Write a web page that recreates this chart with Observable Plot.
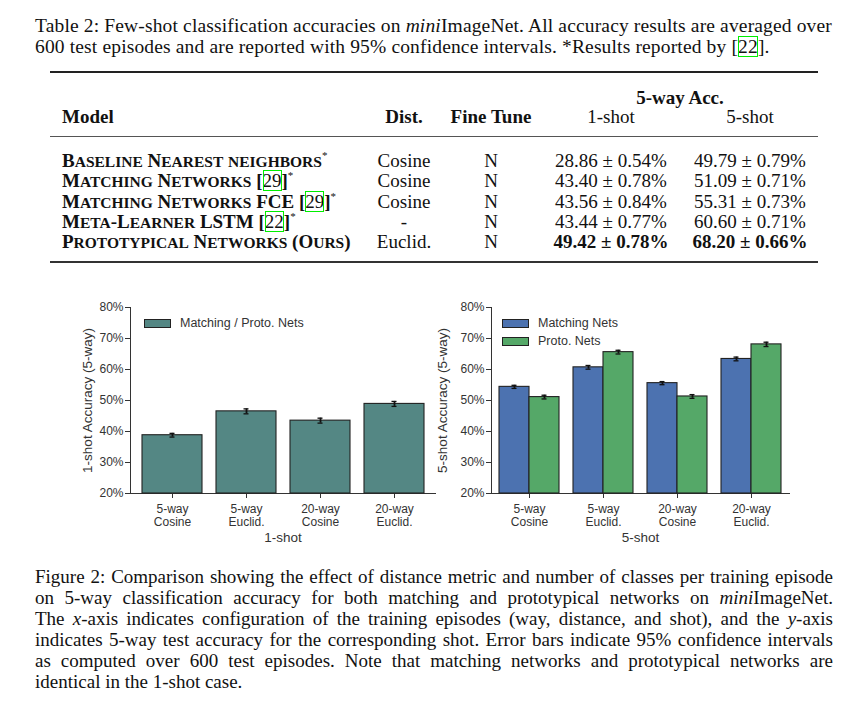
<!DOCTYPE html>
<html>
<head>
<meta charset="utf-8">
<script src="https://cdn.jsdelivr.net/npm/d3@7"></script>
<script src="https://cdn.jsdelivr.net/npm/@observablehq/plot@0.6"></script>
<style>
  body { margin: 0; background: #fff; }
  #page { position: relative; width: 851px; height: 705px; overflow: hidden;
          font-family: "Liberation Serif", "Times New Roman", serif; color: #111; }
  .capline { position: absolute; left: 35px; font-size: 19px; line-height: 21px; white-space: nowrap; }
  .tcap { font-size: 19.5px; letter-spacing: 0.15px; }
  .just { text-align: justify; text-align-last: justify; }
  .rule { position: absolute; left: 50px; width: 768px; background: #222; }
  .cell { position: absolute; white-space: nowrap; font-size: 19px; line-height: 1; transform: translateY(-50%); }
  .c { transform: translate(-50%, -50%); }
  .b { font-weight: bold; }
  .sc { font-weight: bold; }
  .sm { font-size: 15.5px; }
  .cite { outline: 1.2px solid #00ee00; outline-offset: -1px; font-weight: normal; }
  .star { font-size: 11px; vertical-align: 8px; font-weight: normal; }
  .chart { position: absolute; }
  .chart [aria-label="y-axis label"], .chart [aria-label="x-axis label"] { font-size: 13.5px; }
  .legend { position: absolute; font-family: "Liberation Sans", Arial, sans-serif; font-size: 12.5px; color: #333; }
  .legend .sw { position: absolute; border: 1px solid #222; box-sizing: border-box; }
  .legend .lt { position: absolute; transform: translateY(-50%); line-height: 1; white-space: nowrap; }
</style>
</head>
<body>
<div id="page"></div>
<script>
// ---------------- data ----------------
const tableModels = ["Baseline Nearest neighbors", "Matching Networks", "Matching Networks FCE", "Meta-Learner LSTM", "Prototypical Networks (Ours)"];
const tableRefs = [null, "29", "29", "22", null];
const tableStar = [true, true, true, true, false];
const tableDist = ["Cosine", "Cosine", "Cosine", "-", "Euclid."];
const tableFineTune = ["N", "N", "N", "N", "N"];
const acc1shot = [28.86, 43.40, 43.56, 43.44, 49.42];
const ci1shot = [0.54, 0.78, 0.84, 0.77, 0.78];
const acc5shot = [49.79, 51.09, 55.31, 60.60, 68.20];
const ci5shot = [0.79, 0.71, 0.73, 0.71, 0.66];
const boldRow = [false, false, false, false, true];

const configs = ["5-way\nCosine", "5-way\nEuclid.", "20-way\nCosine", "20-way\nEuclid."];
const yTicks = [20, 30, 40, 50, 60, 70, 80];
const oneShotAcc = [38.8, 46.5, 43.5, 48.9];
const oneShotErr = [0.6, 0.8, 0.8, 0.8];
const seriesNames = ["Matching Nets", "Proto. Nets"];
const matchingAcc5 = [54.4, 60.7, 55.6, 63.4];
const matchingErr5 = [0.5, 0.6, 0.5, 0.6];
const protoAcc5 = [51.1, 65.6, 51.3, 68.1];
const protoErr5 = [0.6, 0.6, 0.6, 0.7];

const tealColor = "#548784";
const blueColor = "#4C72B0";
const greenColor = "#55A868";

// ---------------- page text ----------------
const page = document.getElementById("page");
function add(html, cls, style) {
  const d = document.createElement("div");
  d.className = cls;
  d.innerHTML = html;
  Object.assign(d.style, style || {});
  page.appendChild(d);
  return d;
}
const smallCaps = s => s.replace(/[a-z]+/g, m => '<span class="sm">' + m.toUpperCase() + '</span>');

// table caption
add('Table 2: Few-shot classification accuracies on <i>mini</i>ImageNet. All accuracy results are averaged over',
    "capline tcap just", {top: "14.5px", width: "777px"});
add('600 test episodes and are reported with 95% confidence intervals. *Results reported by [<span class="cite">22</span>].',
    "capline tcap", {top: "35.5px"});

// rules
add("", "rule", {top: "71px", height: "1.6px"});
add("", "rule", {top: "135.5px", height: "1.4px", background: "#555"});
add("", "rule", {top: "261px", height: "1.6px", background: "#333"});

// header
const colX = {model: 62, dist: 404, ft: 491, s1: 611, s5: 750};
add("5-way Acc.", "cell c b", {left: "680px", top: "97px"});
add("Model", "cell b", {left: colX.model + "px", top: "116px"});
add("Dist.", "cell c b", {left: colX.dist + "px", top: "116px"});
add("Fine Tune", "cell c b", {left: colX.ft + "px", top: "116px"});
add("1-shot", "cell c", {left: colX.s1 + "px", top: "116px"});
add("5-shot", "cell c", {left: colX.s5 + "px", top: "116px"});

const rowY = [160, 180, 200.5, 221, 241];
tableModels.forEach((m, i) => {
  let html = smallCaps(m);
  if (tableRefs[i]) html += ' [<span class="cite">' + tableRefs[i] + '</span>]';
  if (tableStar[i]) html += '<span class="star">*</span>';
  add(html, "cell sc", {left: colX.model + "px", top: rowY[i] + "px"});
  add(tableDist[i], "cell c", {left: colX.dist + "px", top: rowY[i] + "px"});
  add(tableFineTune[i], "cell c", {left: colX.ft + "px", top: rowY[i] + "px"});
  const fw = boldRow[i] ? " b" : "";
  add(acc1shot[i].toFixed(2) + " \u00b1 " + ci1shot[i].toFixed(2) + "%", "cell c" + fw, {left: colX.s1 + "px", top: rowY[i] + "px"});
  add(acc5shot[i].toFixed(2) + " \u00b1 " + ci5shot[i].toFixed(2) + "%", "cell c" + fw, {left: colX.s5 + "px", top: rowY[i] + "px"});
});

// figure caption
const figLines = [
  'Figure 2: Comparison showing the effect of distance metric and number of classes per training episode',
  'on 5-way classification accuracy for both matching and prototypical networks on <i>mini</i>ImageNet.',
  'The <i>x</i>-axis indicates configuration of the training episodes (way, distance, and shot), and the <i>y</i>-axis',
  'indicates 5-way test accuracy for the corresponding shot. Error bars indicate 95% confidence intervals',
  'as computed over 600 test episodes. Note that matching networks and prototypical networks are',
  'identical in the 1-shot case.'
];
figLines.forEach((t, i) => {
  const last = i === figLines.length - 1;
  add(t, "capline" + (last ? "" : " just"), {top: (566 + i * 21) + "px", width: last ? "auto" : "798px"});
});

// ---------------- charts ----------------
const chartStyle = {fontFamily: "'Liberation Sans', Arial, sans-serif", fontSize: "12px", color: "#333", background: "transparent", overflow: "visible"};
const yDomain = [yTicks[0], yTicks[yTicks.length - 1]];

function axes(xLabel, yLabel, yLabelOffset) {
  return [
    Plot.frame({anchor: "left", stroke: "#333"}),
    Plot.frame({anchor: "bottom", stroke: "#333"}),
    Plot.axisY({ticks: yTicks, tickFormat: d => d + "%", tickSize: 5, tickPadding: 2,
                label: yLabel, labelAnchor: "center", labelArrow: "none", labelOffset: yLabelOffset}),
    Plot.axisX({tickSize: 5, tickPadding: 5, lineHeight: 1.12,
                label: xLabel, labelAnchor: "center", labelArrow: "none", labelOffset: 48})
  ];
}

const leftData = configs.map((c, i) => ({config: c, acc: oneShotAcc[i], err: oneShotErr[i]}));
const leftChart = Plot.plot({
  width: 380, height: 260,
  marginLeft: 70, marginRight: 5, marginTop: 17, marginBottom: 57,
  style: chartStyle,
  x: {domain: configs, paddingInner: 0.19, paddingOuter: 0.15},
  y: {domain: yDomain},
  marks: [
    ...axes("1-shot", "1-shot Accuracy (5-way)", 48),
    Plot.barY(leftData, {x: "config", y1: yDomain[0], y2: "acc", fill: tealColor, stroke: "#222", strokeWidth: 1.1}),
    Plot.ruleX(leftData, {x: "config", y1: d => d.acc - d.err, y2: d => d.acc + d.err, stroke: "#111", strokeWidth: 1.8}),
    Plot.tickY(leftData, {x: "config", y: d => d.acc - d.err, insetLeft: 27.5, insetRight: 27.5, stroke: "#111", strokeWidth: 1.3}),
    Plot.tickY(leftData, {x: "config", y: d => d.acc + d.err, insetLeft: 27.5, insetRight: 27.5, stroke: "#111", strokeWidth: 1.3})
  ]
});
leftChart.classList.add("chart");
Object.assign(leftChart.style, {left: "60px", top: "290px"});
page.appendChild(leftChart);

const matchData = configs.map((c, i) => ({config: c, acc: matchingAcc5[i], err: matchingErr5[i]}));
const protoData = configs.map((c, i) => ({config: c, acc: protoAcc5[i], err: protoErr5[i]}));
function errMarks(data, dx) {
  return [
    Plot.ruleX(data, {x: "config", y1: d => d.acc - d.err, y2: d => d.acc + d.err, dx, stroke: "#111", strokeWidth: 1.8}),
    Plot.tickY(data, {x: "config", y: d => d.acc - d.err, dx, insetLeft: 27.5, insetRight: 27.5, stroke: "#111", strokeWidth: 1.3}),
    Plot.tickY(data, {x: "config", y: d => d.acc + d.err, dx, insetLeft: 27.5, insetRight: 27.5, stroke: "#111", strokeWidth: 1.3})
  ];
}
const rightChart = Plot.plot({
  width: 400, height: 260,
  marginLeft: 61, marginRight: 41, marginTop: 17, marginBottom: 57,
  style: chartStyle,
  x: {domain: configs, paddingInner: 0.19, paddingOuter: 0.1},
  y: {domain: yDomain},
  marks: [
    ...axes("5-shot", "5-shot Accuracy (5-way)", 54),
    Plot.barY(matchData, {x: "config", y1: yDomain[0], y2: "acc", insetRight: 30, fill: blueColor, stroke: "#222", strokeWidth: 1.1}),
    Plot.barY(protoData, {x: "config", y1: yDomain[0], y2: "acc", insetLeft: 30, fill: greenColor, stroke: "#222", strokeWidth: 1.1}),
    ...errMarks(matchData, -15),
    ...errMarks(protoData, 15)
  ]
});
rightChart.classList.add("chart");
Object.assign(rightChart.style, {left: "430px", top: "290px"});
page.appendChild(rightChart);

// ---------------- legends ----------------
function legend(items, left, top) {
  const lg = document.createElement("div");
  lg.className = "legend";
  Object.assign(lg.style, {left: left + "px", top: top + "px"});
  items.forEach((it, i) => {
    const sw = document.createElement("div");
    sw.className = "sw";
    Object.assign(sw.style, {left: "0px", top: (i * 18) + "px", width: "27px", height: "9px", background: it.color});
    const tx = document.createElement("div");
    tx.className = "lt";
    tx.textContent = it.name;
    Object.assign(tx.style, {left: "36px", top: (i * 18 + 4.5) + "px"});
    lg.appendChild(sw); lg.appendChild(tx);
  });
  page.appendChild(lg);
}
legend([{name: "Matching / Proto. Nets", color: tealColor}], 144, 318.5);
legend([{name: seriesNames[0], color: blueColor}, {name: seriesNames[1], color: greenColor}], 502, 318.5);
</script>
</body>
</html>
